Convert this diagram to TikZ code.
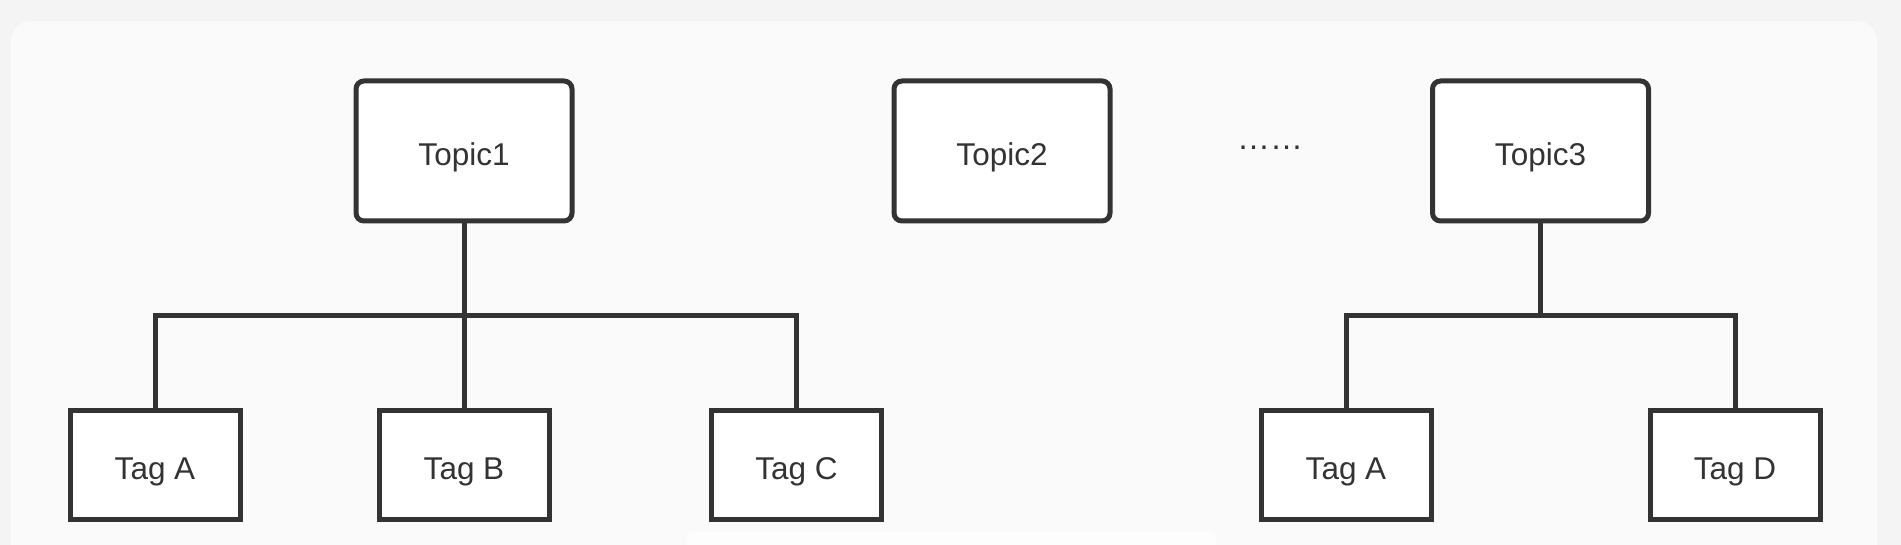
\documentclass[tikz,border=0pt]{standalone}
\usepackage{fontspec}
\setmainfont{Liberation Sans}

\definecolor{ink}{HTML}{333333}
\definecolor{outerbg}{HTML}{F4F4F4}
\definecolor{panelbg}{HTML}{FAFAFA}

\tikzset{
  topicbox/.style={draw=ink, line width=5pt, fill=white, rounded corners=8pt,
    minimum width=216pt, minimum height=140pt, inner sep=0pt,
    text height=28.5pt, text depth=0pt,
    text=ink, font=\fontsize{31.5}{36}\selectfont},
  tagbox/.style={draw=ink, line width=5pt, fill=white,
    minimum width=170pt, minimum height=109pt, inner sep=0pt,
    text height=28.5pt, text depth=0pt,
    text=ink, font=\fontsize{31.5}{36}\selectfont},
  link/.style={draw=ink, line width=5pt}
}

\begin{document}
\begin{tikzpicture}[x=1pt, y=-1pt]

\useasboundingbox (0,0) rectangle (1901,545);

\fill[outerbg] (0,0) rectangle (1901,545);

\fill[panelbg, rounded corners=20pt] (11,21) rectangle (1877,580);

\fill[white!60!panelbg, rounded corners=6pt] (687,532) rectangle (1216,560);

% topics
\node[topicbox] (topic1) at (464,151) {Topic1};

\node[topicbox] (topic2) at (1002,151) {Topic2};

\node[topicbox] (topic3) at (1540.5,151) {Topic3};

\node[text=ink, font=\fontsize{33}{36}\selectfont, anchor=base, inner sep=0pt] (dots) at (1270,150) {……};

% tags
\node[tagbox] (tag1a) at (155,465) {Tag A};

\node[tagbox] (tag1b) at (464,465) {Tag B};

\node[tagbox] (tag1c) at (796.5,465) {Tag C};

\node[tagbox] (tag3a) at (1346,465) {Tag A};

\node[tagbox] (tag3d) at (1735,465) {Tag D};

\coordinate (bar1) at (464,316);

\coordinate (bar3) at (1540.5,316);

% connectors
\draw[link] (topic1.south) -- (tag1b.north);

\draw[link] (tag1a.north) |- (bar1) -| (tag1c.north);

\draw[link] (topic3.south) -- (bar3);

\draw[link] (tag3a.north) |- (bar3) -| (tag3d.north);

\end{tikzpicture}
\end{document}
